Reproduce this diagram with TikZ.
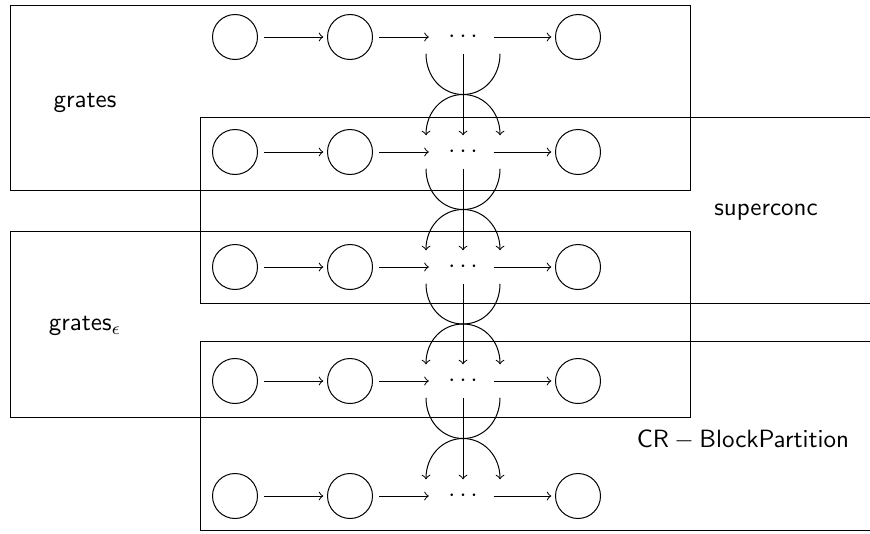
\documentclass[tikz,border=0pt]{standalone}
\usetikzlibrary{calc}
\begin{document}
\begin{tikzpicture}[x=0.4pt,y=-0.4pt,
  st/.style={circle,draw,minimum size=18pt,inner sep=0pt},
  dt/.style={inner sep=0pt,minimum width=24pt,minimum height=13pt},
  lb/.style={font=\sffamily},
  ar/.style={->,shorten <=2.5pt,shorten >=1.5pt},
  dar/.style={->}]
\useasboundingbox (0,0) rectangle (870,533);
\clip (0,0) rectangle (870,533);
% boxes
\draw (10,5) rectangle (690,190);
\draw (200,117) rectangle (900,303);
\draw (10,231) rectangle (690,417);
\draw (200,341) rectangle (900,530);
% rows
\foreach \i/\y in {1/37,2/152,3/267,4/381,5/496}{
  \node[st] (a\i) at (235,\y) {};
  \node[st] (b\i) at (350,\y) {};
  \node[dt] (d\i) at (463,\y) {$\cdots$};
  \node[st] (c\i) at (578,\y) {};
  \draw[ar] (a\i) -- (b\i);
  \draw[ar] (b\i) -- (d\i);
  \draw[->,shorten >=1.5pt] (d\i) -- (c\i);
}
% inter-row connectors
\foreach \i/\j in {1/2,2/3,3/4,4/5}{
  \coordinate (m\i) at ($(d\i.south)!0.5!(d\j.north)$);
  \draw[dar] (d\i.south) -- (d\j.north);
  \draw[dar] ($(d\i.south)+(-37,0)$) .. controls +(0,23) and +(-21,0) .. (m\i)
     .. controls +(21,0) and +(0,-23) .. ($(d\j.north)+(37,0)$);
  \draw[dar] ($(d\i.south)+(37,0)$) .. controls +(0,23) and +(21,0) .. (m\i)
     .. controls +(-21,0) and +(0,-23) .. ($(d\j.north)+(-37,0)$);
}
% labels
\node[lb] (l1) at (85,103) {grates};
\node[lb] (l2) at (766,212) {superconc};
\node[lb] (l3) at (85,326) {grates$_\epsilon$};
\node[lb] (l4) at (743,440) {$\mathsf{CR}-\mathsf{BlockPartition}$};
\end{tikzpicture}
\end{document}
